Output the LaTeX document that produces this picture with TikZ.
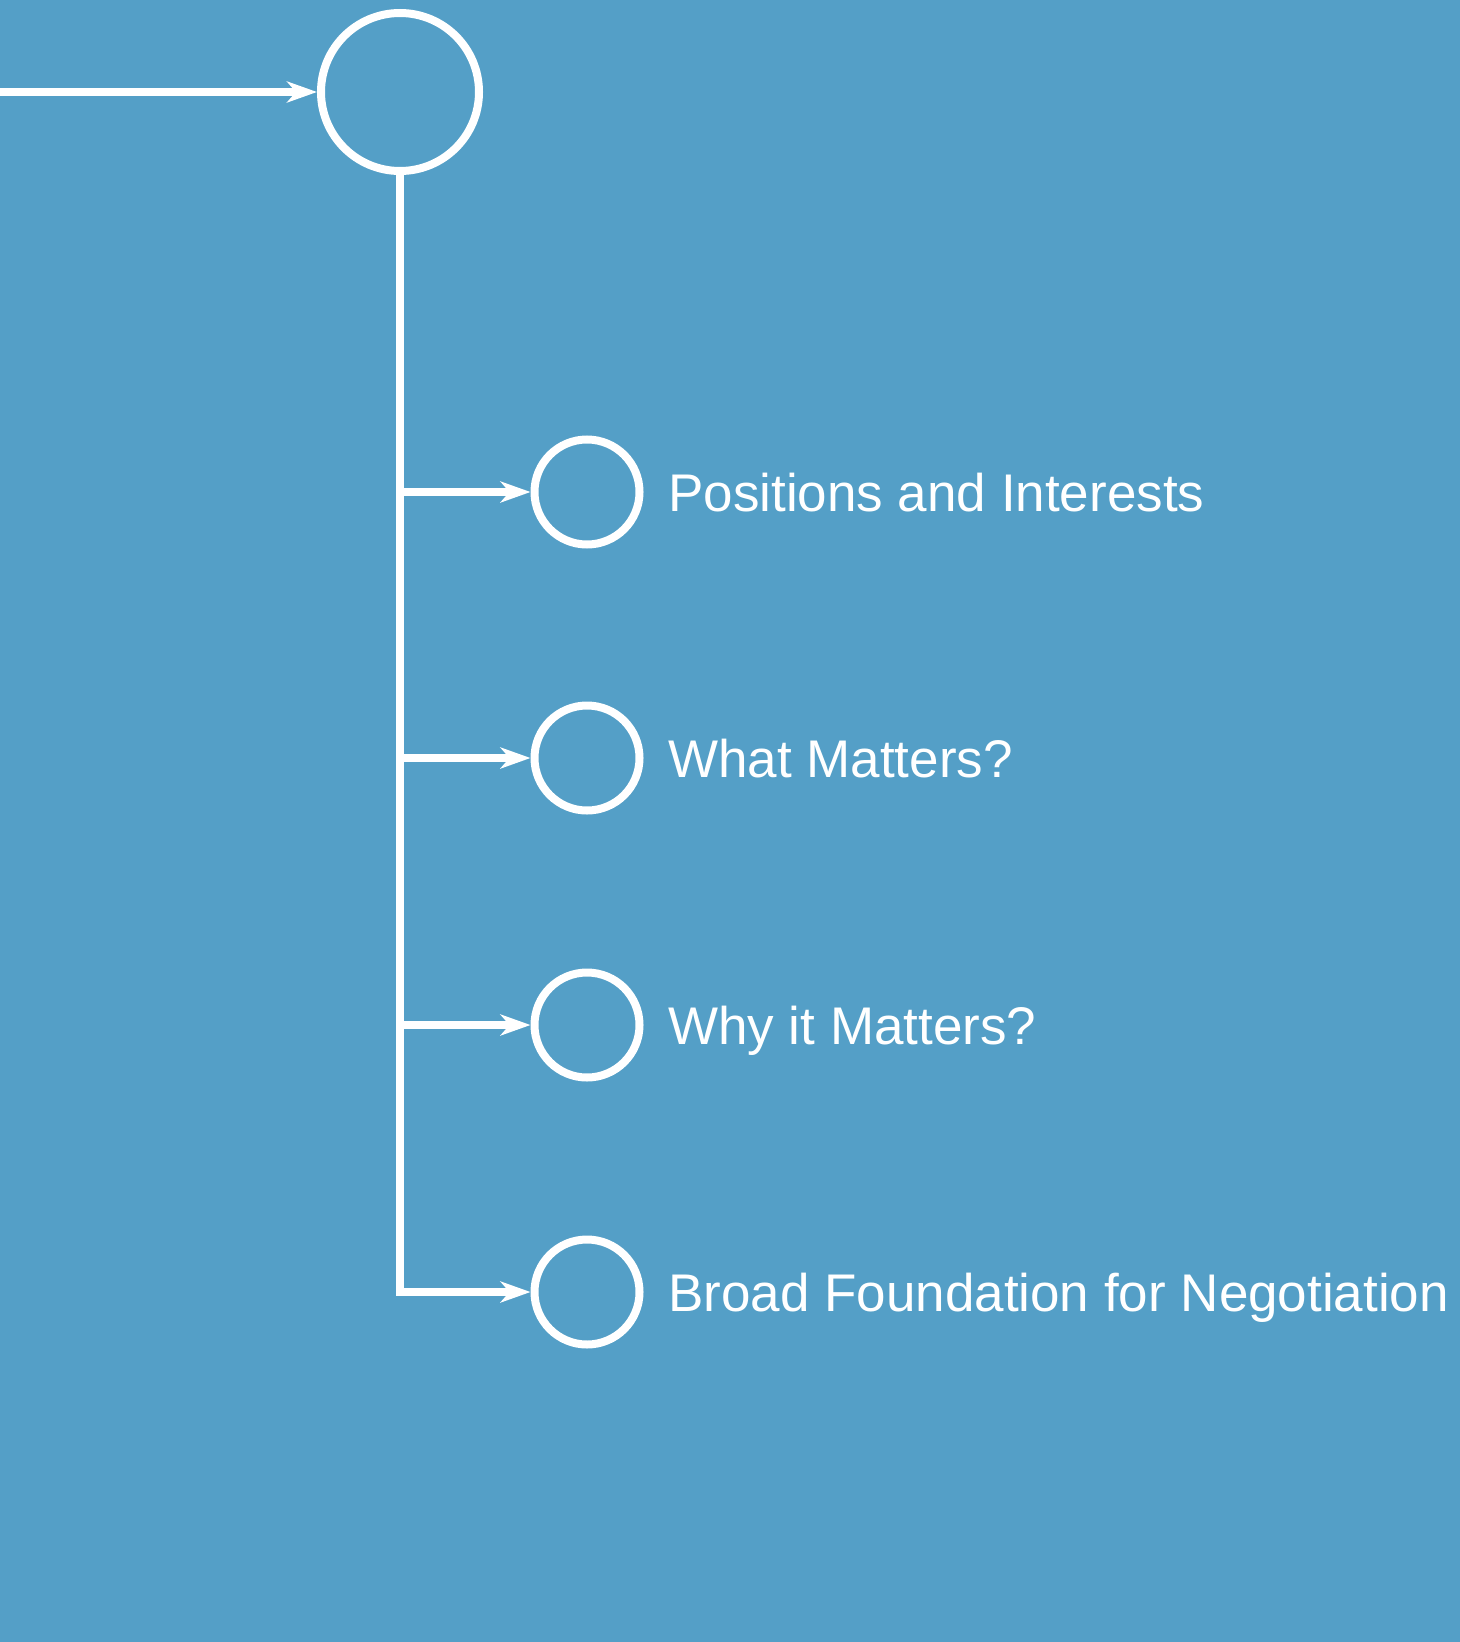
\documentclass[tikz,border=0pt]{standalone}
\usepackage{fontspec}
\setmainfont{Liberation Sans}
\usetikzlibrary{arrows.meta}
\definecolor{bg}{RGB}{84,159,199}
\begin{document}
\begin{tikzpicture}[x=1bp,y=-1bp,
  wire/.style={draw=white,line width=7.5bp},
  arr/.style={wire,-{Stealth[length=30bp,width=21bp,inset=9bp]}},
  bigc/.style={circle,draw=white,line width=8bp,minimum size=158bp,inner sep=0pt},
  smallc/.style={circle,draw=white,line width=8bp,minimum size=105bp,inner sep=0pt},
  lbl/.style={text=white,font=\fontsize{53bp}{60bp}\selectfont,anchor=base west,inner sep=0pt}]
\fill[bg] (0,0) rectangle (1460,1642);
\useasboundingbox (0,0) rectangle (1460,1642);
\node[bigc] (top) at (400,92) {};
\coordinate (start) at (0,92);
\draw[arr] (start) -- (top.west);
\foreach \i/\y/\t in {1/492/Positions and Interests,2/758/What Matters?,3/1025/Why it Matters?,4/1292/Broad Foundation for Negotiation}{
  \node[smallc] (c\i) at (587,\y) {};
  \node[lbl] (t\i) at (668,\y+19) {\t};
  \coordinate (b\i) at (400,\y);
}
\draw[wire] (top.south) -- (b4);
\draw[arr] (b1) -- (c1.west);
\draw[arr] (b2) -- (c2.west);
\draw[arr] (b3) -- (c3.west);
\draw[arr,line join=miter] (top.south) |- (c4.west);
\end{tikzpicture}
\end{document}
